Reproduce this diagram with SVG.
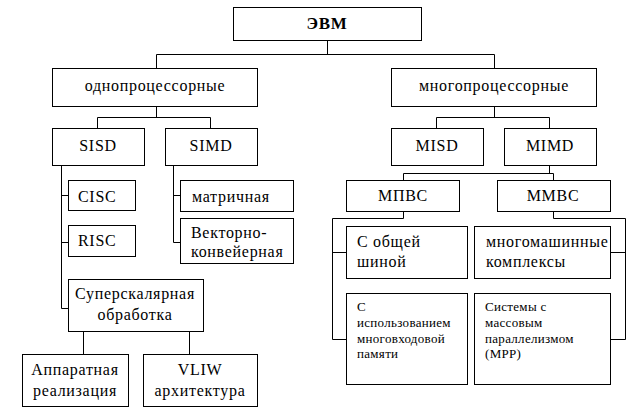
<svg xmlns="http://www.w3.org/2000/svg" width="642" height="414" viewBox="0 0 642 414">
<style>
rect{fill:#fff;stroke:#000;stroke-width:1}
.c path{fill:none;stroke:#000;stroke-width:1}
text{font-family:'Liberation Serif','Times New Roman',serif;font-size:16px;fill:#000;letter-spacing:0.7px}
.m{text-anchor:middle}
.s{font-size:13px;letter-spacing:0.3px}
.b{font-weight:bold;font-size:17px}
</style>
<rect x="0" y="0" width="642" height="414" style="stroke:none"/>
<g class="c">
<path d="M327.5 40V54.5M156.5 54.5H494.5M156.5 54.5V68M494.5 54.5V68"/>
<path d="M156.5 106V117.5M97.5 117.5H210.5M97.5 117.5V128M210.5 117.5V128"/>
<path d="M494.5 106V117.5M436.5 117.5H549.5M436.5 117.5V128M549.5 117.5V128"/>
<path d="M61.5 165V308.5M61.5 195.5H68M61.5 242.5H68M61.5 308.5H68"/>
<path d="M173.5 165V242.5M173.5 195.5H180M173.5 242.5H180"/>
<path d="M83.5 331V354M189.5 331V354"/>
<path d="M549.5 165V173.5M403.5 173.5H553.5M403.5 173.5V180M553.5 173.5V180"/>
<path d="M403.5 211V218.5H332.5V339.5H346M332.5 252.5H346"/>
<path d="M553.5 211V218.5H625.5V339.5H610M625.5 252.5H610"/>
</g>
<g id="n-evm"><rect x="233.5" y="7.5" width="188" height="33"/><text font-family="Liberation Serif" class="m b" x="327" y="29">ЭВМ</text></g>
<g id="n-odno"><rect x="52.5" y="68.5" width="205" height="38"/><text font-family="Liberation Serif" class="m" x="155" y="91">однопроцессорные</text></g>
<g id="n-mnogo"><rect x="391.5" y="68.5" width="205" height="38"/><text font-family="Liberation Serif" class="m" x="494" y="91">многопроцессорные</text></g>
<g id="n-sisd"><rect x="52.5" y="128.5" width="92" height="37"/><text font-family="Liberation Serif" class="m" x="98" y="151">SISD</text></g>
<g id="n-simd"><rect x="165.5" y="128.5" width="92" height="37"/><text font-family="Liberation Serif" class="m" x="211" y="151">SIMD</text></g>
<g id="n-misd"><rect x="391.5" y="128.5" width="92" height="37"/><text font-family="Liberation Serif" class="m" x="437" y="151">MISD</text></g>
<g id="n-mimd"><rect x="504.5" y="128.5" width="92" height="37"/><text font-family="Liberation Serif" class="m" x="550" y="151">MIMD</text></g>
<g id="n-cisc"><rect x="68.5" y="180.5" width="67" height="30"/><text font-family="Liberation Serif" x="78" y="202">CISC</text></g>
<g id="n-risc"><rect x="68.5" y="225.5" width="67" height="31"/><text font-family="Liberation Serif" x="78" y="246">RISC</text></g>
<g id="n-super"><rect x="68.5" y="279.5" width="135" height="52"/><text font-family="Liberation Serif" class="m" x="135" y="299">Суперскалярная</text><text font-family="Liberation Serif" class="m" x="135" y="320">обработка</text></g>
<g id="n-matr"><rect x="180.5" y="180.5" width="113" height="31"/><text font-family="Liberation Serif" x="192" y="202">матричная</text></g>
<g id="n-vekt"><rect x="180.5" y="218.5" width="113" height="45"/><text font-family="Liberation Serif" x="191" y="238">Векторно-</text><text font-family="Liberation Serif" x="191" y="257">конвейерная</text></g>
<g id="n-app"><rect x="22.5" y="354.5" width="106" height="52"/><text font-family="Liberation Serif" class="m" x="75" y="375">Аппаратная</text><text font-family="Liberation Serif" class="m" x="75" y="396">реализация</text></g>
<g id="n-vliw"><rect x="143.5" y="354.5" width="114" height="52"/><text font-family="Liberation Serif" class="m" x="200" y="375">VLIW</text><text font-family="Liberation Serif" class="m" x="200" y="396">архитектура</text></g>
<g id="n-mpvs"><rect x="346.5" y="180.5" width="113" height="31"/><text font-family="Liberation Serif" class="m" x="403" y="201">МПВС</text></g>
<g id="n-mmvs"><rect x="497.5" y="180.5" width="113" height="31"/><text font-family="Liberation Serif" class="m" x="553" y="201">ММВС</text></g>
<g id="n-obsh"><rect x="346.5" y="226.5" width="121" height="52"/><text font-family="Liberation Serif" x="357" y="247">С общей</text><text font-family="Liberation Serif" x="357" y="267">шиной</text></g>
<g id="n-mnmash"><rect x="474.5" y="226.5" width="136" height="52"/><text font-family="Liberation Serif" x="486" y="247">многомашинные</text><text font-family="Liberation Serif" x="486" y="267">комплексы</text></g>
<g id="n-ispol"><rect x="346.5" y="293.5" width="121" height="91"/><text font-family="Liberation Serif" class="s" x="357" y="311">С</text><text font-family="Liberation Serif" class="s" x="357" y="327">использованием</text><text font-family="Liberation Serif" class="s" x="357" y="343">многовходовой</text><text font-family="Liberation Serif" class="s" x="357" y="358">памяти</text></g>
<g id="n-mpp"><rect x="474.5" y="293.5" width="136" height="91"/><text font-family="Liberation Serif" class="s" x="485" y="311">Системы с</text><text font-family="Liberation Serif" class="s" x="485" y="327">массовым</text><text font-family="Liberation Serif" class="s" x="485" y="343">параллелизмом</text><text font-family="Liberation Serif" class="s" x="485" y="358">(MPP)</text></g>
</svg>
